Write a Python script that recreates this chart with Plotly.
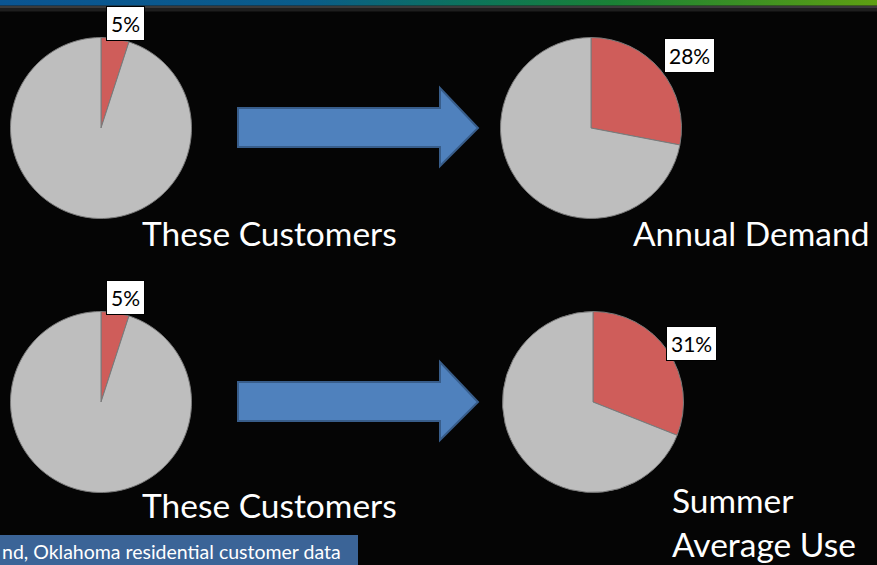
import plotly.graph_objects as go

# ---- data ----
row_names = ["Annual Demand", "Summer Average Use"]
customer_share = [5, 5]          # % of customers (left pies)
usage_share = [28, 31]           # % of demand / use (right pies)
left_caption = "These Customers"
right_captions = ["Annual Demand", "Summer<br>Average Use"]
footer_text = "nd, Oklahoma residential customer data"

W, H = 877, 565
BG = "#050505"
RED = "#cf5d5a"
GRAY = "#bebebe"
FONT = "Lato"

fig = go.Figure()

def dom(cx, cy, r):
    return dict(x=[(cx - r) / W, (cx + r) / W], y=[1 - (cy + r) / H, 1 - (cy - r) / H])

pie_centers_left = [(101, 128), (101, 402)]
pie_centers_right = [(591, 128), (593, 402)]
R = 90.5

for i in range(2):
    for centers, share in ((pie_centers_left, customer_share[i]), (pie_centers_right, usage_share[i])):
        cx, cy = centers[i]
        fig.add_trace(go.Pie(
            values=[share, 100 - share],
            labels=["group", "rest"],
            sort=False, direction="clockwise", rotation=0,
            marker=dict(colors=[RED, GRAY], line=dict(color="#7a7a7a", width=1)),
            textinfo="none", hoverinfo="skip", showlegend=False,
            domain=dom(cx, cy, R),
        ))

# overlay axes in pixel units for decorations
fig.add_trace(go.Scatter(
    x=[0, W, W, 0, 0], y=[0, 0, 5.5, 5.5, 0], mode="lines", line=dict(width=0),
    fill="toself",
    fillgradient=dict(type="horizontal",
                      colorscale=[[0, "#0a5592"], [0.35, "#0a5c8a"], [0.55, "#0d7558"],
                                  [0.7, "#1a8135"], [1, "#5e9f12"]]),
    hoverinfo="skip", showlegend=False,
))

shapes = [
    dict(type="rect", x0=0, x1=W, y0=5.5, y1=8.5, fillcolor="#3a3a3a", line=dict(width=0), layer="below"),
    dict(type="rect", x0=0, x1=W, y0=8.5, y1=11.5, fillcolor="#1e1e1e", line=dict(width=0), layer="below"),
]
# arrows
for dy in (0, 274):
    path = (f"M 238 {108+dy} L 440 {108+dy} L 440 {88+dy} L 478 {128+dy} "
            f"L 440 {166+dy} L 440 {147+dy} L 238 {147+dy} Z")
    shapes.append(dict(type="path", path=path, fillcolor="#4f81bd",
                       line=dict(color="#385d8a", width=2)))
# footer box
shapes.append(dict(type="rect", x0=-2, x1=358, y0=535, y1=567, fillcolor="#3b6497",
                   line=dict(width=0)))

annotations = []
# percentage boxes
label_pos_left = [(125, 23), (125, 297)]
label_pos_right = [(689, 55), (691, 343)]
for i in range(2):
    for (lx, ly), v in ((label_pos_left[i], customer_share[i]), (label_pos_right[i], usage_share[i])):
        annotations.append(dict(x=lx, y=ly, xref="x", yref="y", text=f"{v}%", showarrow=False,
                                font=dict(family=FONT, size=21, color="black"),
                                bgcolor="white", bordercolor="black", borderwidth=1, borderpad=4))
# captions
for y in (233, 505):
    annotations.append(dict(x=269, y=y, xref="x", yref="y", text=left_caption, showarrow=False,
                            font=dict(family=FONT, size=33.5, color="white")))
annotations.append(dict(x=631, y=233, xref="x", yref="y", text=right_captions[0], showarrow=False,
                        xanchor="left", font=dict(family=FONT, size=33.5, color="white")))
annotations.append(dict(x=670, y=522, xref="x", yref="y", text=right_captions[1], showarrow=False,
                        xanchor="left", align="left", font=dict(family=FONT, size=33.5, color="white")))
annotations.append(dict(x=0, y=551, xref="x", yref="y", text=footer_text, showarrow=False,
                        xanchor="left", font=dict(family=FONT, size=19.5, color="white")))

fig.update_layout(
    width=W, height=H, margin=dict(l=0, r=0, t=0, b=0),
    paper_bgcolor=BG, plot_bgcolor=BG,
    xaxis=dict(range=[0, W], visible=False, fixedrange=True),
    yaxis=dict(range=[H, 0], visible=False, fixedrange=True),
    shapes=shapes, annotations=annotations,
)

fig.write_html("out.html", config={"displayModeBar": False},
               post_script="document.body.style.margin='0';document.body.style.background='#050505';")
